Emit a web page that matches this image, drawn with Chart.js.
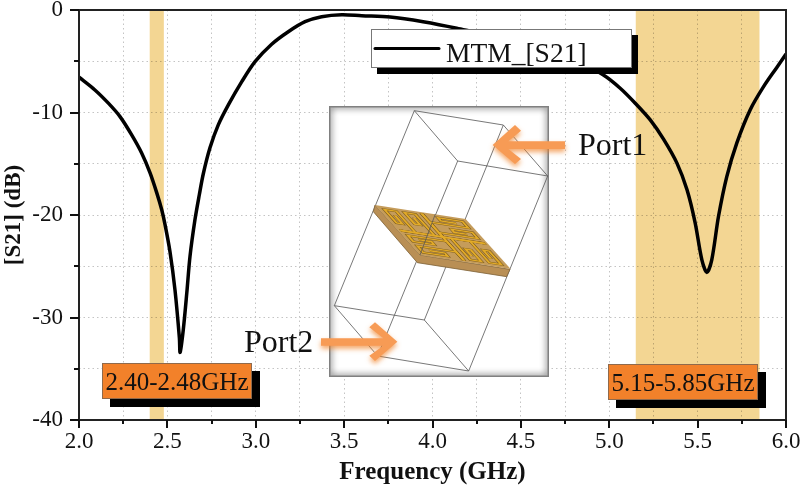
<!DOCTYPE html>
<html>
<head>
<meta charset="utf-8">
<title>MTM S21</title>
<script src="https://cdn.jsdelivr.net/npm/chart.js@4"></script>
<style>
  html, body { margin: 0; padding: 0; background: #fff; }
  canvas { display: block; }
</style>
</head>
<body>
<canvas id="myChart" width="800" height="488"></canvas>
<script>
// values
const freq = [2.00, 2.09, 2.166, 2.232, 2.298, 2.355, 2.402, 2.44, 2.468, 2.487, 2.515, 2.543, 2.568, 2.572,
    2.59, 2.61, 2.628, 2.656, 2.681, 2.703, 2.741, 2.788, 2.845, 2.921, 2.996, 3.09, 3.184, 3.279, 3.373, 3.487,
    3.60, 3.76, 3.947, 4.137, 4.5, 4.8, 4.967, 5.062, 5.147, 5.232, 5.307, 5.383, 5.44, 5.486, 5.524, 5.552,
    5.58, 5.618, 5.665, 5.722, 5.797, 5.873, 5.948, 6.00];
const s21 = [-6.56, -7.80, -9.09, -10.40, -12.18, -13.97, -15.89, -17.84, -19.49, -20.96, -23.6, -27.3, -32.0, -33.40,
    -31.19, -27.58, -24.04, -20.47, -18.0, -16.0, -13.45, -11.21, -9.26, -6.99, -5.04, -3.34, -2.12, -1.14, -0.65, -0.46,
    -0.56, -0.68, -1.14, -1.78, -3.2, -4.8, -6.34, -7.63, -9.09, -10.72, -12.6, -14.94, -17.54, -20.76, -24.37, -25.6,
    -24.37, -20.15, -16.25, -12.96, -9.75, -7.48, -5.6, -4.3];
const bandStart = [2.40, 5.15];
const bandEnd = [2.48, 5.85];
const bandLabels = ['2.40-2.48GHz', '5.15-5.85GHz'];
const seriesName = 'MTM_[S21]';

const SERIF = '"Liberation Serif", "Times New Roman", serif';
const DARK = '#222';

// shaded frequency bands, multiplied so the grid dots still show through
const bandsPlugin = {
    id: 'bands',
    beforeDatasetsDraw(chart) {
        const { ctx, chartArea, scales } = chart;
        ctx.save();
        ctx.globalCompositeOperation = 'multiply';
        ctx.fillStyle = '#f3d693';
        bandStart.forEach((s, i) => {
            const x0 = scales.x.getPixelForValue(s);
            const x1 = scales.x.getPixelForValue(bandEnd[i]);
            ctx.fillRect(x0, chartArea.top, x1 - x0, chartArea.bottom - chartArea.top);
        });
        ctx.restore();
    }
};

function shadowBox(ctx, x, y, w, h, off, fill, border) {
    ctx.fillStyle = '#000';
    ctx.fillRect(x + off, y + off, w, h);
    ctx.fillStyle = fill;
    ctx.fillRect(x, y, w, h);
    ctx.strokeStyle = border;
    ctx.lineWidth = 1;
    ctx.strokeRect(x + 0.5, y + 0.5, w - 1, h - 1);
}

function arrow(ctx, pts) {
    ctx.save();
    ctx.shadowColor = 'rgba(240,130,40,0.7)';
    ctx.shadowBlur = 5;
    ctx.shadowOffsetY = 3;
    ctx.fillStyle = '#f79b55';
    ctx.beginPath();
    pts.forEach((p, i) => i ? ctx.lineTo(p[0], p[1]) : ctx.moveTo(p[0], p[1]));
    ctx.closePath();
    ctx.fill();
    ctx.restore();
}

function polyLine(ctx, pts, close) {
    ctx.beginPath();
    pts.forEach((p, i) => i ? ctx.lineTo(p[0], p[1]) : ctx.moveTo(p[0], p[1]));
    if (close) ctx.closePath();
}

function drawInset(ctx) {
    // white panel with a soft grey inner edge
    const x = 329, y = 106, w = 220, h = 271;
    ctx.save();
    ctx.fillStyle = '#fff';
    ctx.fillRect(x, y, w, h);
    ctx.beginPath();
    ctx.rect(x, y, w, h);
    ctx.clip();
    ctx.shadowColor = 'rgba(0,0,0,0.75)';
    ctx.shadowBlur = 7;
    ctx.strokeStyle = '#808080';
    ctx.lineWidth = 3;
    ctx.strokeRect(x, y, w, h);
    ctx.restore();

    // the rest is measured on a 3x crop with its origin at (320,90)
    ctx.save();
    ctx.translate(320, 90);
    ctx.scale(1 / 3, 1 / 3);
    ctx.lineWidth = 2.4;
    ctx.strokeStyle = '#555';
    const top = [[283, 62], [550, 105], [683, 258], [413, 213]];
    const bottom = [[43, 647], [313, 690], [446, 843], [173, 798]];
    polyLine(ctx, top, true); ctx.stroke();
    polyLine(ctx, bottom, true); ctx.stroke();
    top.forEach((p, i) => { polyLine(ctx, [p, bottom[i]]); ctx.stroke(); });

    // substrate sides
    ctx.fillStyle = '#b98f55';
    ctx.strokeStyle = '#7d6238';
    polyLine(ctx, [[165, 345], [300, 495], [570, 538], [560, 560], [292, 518], [160, 365]], true);
    ctx.fill(); ctx.stroke();

    // top face, drawn in a 0..1 square mapped onto the parallelogram
    ctx.save();
    ctx.transform(272, 42, 135, 150, 165, 345);
    ctx.fillStyle = '#c59c5b';
    ctx.fillRect(0, 0, 1, 1);
    const arms = [
        [[0.47, 0], [-0.47, 0]],
        [[0.09, 0], [0.09, 0.43], [0.21, 0.43], [0.21, 0.2], [0.15, 0.2], [0.15, 0.34]],
        [[0.30, 0], [0.30, 0.43], [0.43, 0.43], [0.43, 0.16], [0.365, 0.16], [0.365, 0.33]]
    ];
    [[0.05, '#7c5c1c'], [0.032, '#e2aa28']].forEach(([lw, col]) => {
        ctx.lineWidth = lw;
        ctx.strokeStyle = col;
        for (let r = 0; r < 4; r++) {
            ctx.save();
            ctx.translate(0.5, 0.5);
            ctx.rotate(r * Math.PI / 2);
            arms.forEach(a => { polyLine(ctx, a); ctx.stroke(); });
            ctx.restore();
        }
    });
    ctx.restore();

    // front wires of the box cross over the plate
    ctx.lineWidth = 2.4;
    ctx.strokeStyle = '#555';
    polyLine(ctx, [[346, 372], [300, 495]]);
    ctx.stroke();
    ctx.restore();

    ctx.save();
    ctx.translate(320, 90);
    ctx.scale(1 / 3, 1 / 3);
    arrow(ctx, [[518, 165], [585, 105], [603, 122], [565, 154], [735, 154], [735, 177], [565, 177], [603, 207], [585, 222]]);
    arrow(ctx, [[232, 755], [165, 697], [148, 712], [190, 745], [3, 745], [3, 767], [190, 767], [148, 797], [165, 813]]);
    ctx.restore();
}

const notesPlugin = {
    id: 'notes',
    afterDraw(chart) {
        const { ctx, chartArea, scales } = chart;
        const { left, right, top, bottom } = chartArea;
        ctx.save();

        // frame
        ctx.strokeStyle = DARK;
        ctx.lineWidth = 2;
        ctx.beginPath();
        ctx.moveTo(left, top); ctx.lineTo(left, bottom);
        ctx.moveTo(right, top); ctx.lineTo(right, bottom);
        ctx.moveTo(left - 9, top); ctx.lineTo(right + 1, top);
        ctx.moveTo(left - 9, bottom); ctx.lineTo(right + 1, bottom);
        ctx.stroke();

        // long ticks on labelled values, short ones between
        ctx.strokeStyle = '#111';
        ctx.beginPath();
        scales.x.ticks.forEach(t => {
            const px = Math.round(scales.x.getPixelForValue(t.value));
            ctx.moveTo(px, bottom); ctx.lineTo(px, bottom + (t.label !== '' ? 8 : 4));
        });
        scales.y.ticks.forEach(t => {
            const py = Math.round(scales.y.getPixelForValue(t.value));
            ctx.moveTo(left, py); ctx.lineTo(left - (t.label !== '' ? 9 : 5), py);
        });
        ctx.stroke();

        drawInset(ctx);

        ctx.textBaseline = 'alphabetic';
        ctx.textAlign = 'left';
        ctx.fillStyle = '#111';
        ctx.font = '32px ' + SERIF;
        ctx.fillText('Port1', 578, 155);
        ctx.fillText('Port2', 244, 352);

        // legend
        shadowBox(ctx, 371, 29, 261, 39, 6, '#fff', '#777');
        ctx.strokeStyle = '#000';
        ctx.lineWidth = 3;
        ctx.lineCap = 'round';
        ctx.beginPath();
        ctx.moveTo(375, 48.5); ctx.lineTo(439, 48.5);
        ctx.stroke();
        ctx.fillStyle = '#111';
        ctx.font = '27.5px ' + SERIF;
        ctx.fillText(seriesName, 446, 62);

        // band labels
        [[102, 363], [608, 364]].forEach((pos, i) => {
            shadowBox(ctx, pos[0], pos[1], 150, 36, 8, '#f2812a', '#8f6a4c');
            ctx.fillStyle = '#111';
            ctx.font = '25px ' + SERIF;
            ctx.textAlign = 'center';
            ctx.fillText(bandLabels[i], pos[0] + 75, pos[1] + 27);
        });
        ctx.restore();
    }
};

const gridStyle = {
    color: '#c4c4c4',
    lineWidth: 1,
    drawTicks: false,
    tickLength: 0
};

new Chart(document.getElementById('myChart').getContext('2d'), {
    type: 'line',
    data: {
        labels: freq,
        datasets: [{
            label: seriesName,
            data: freq.map((f, i) => ({ x: f, y: s21[i] })),
            borderColor: '#000',
            borderWidth: 3.5,
            pointRadius: 0,
            tension: 0.3,
            fill: false
        }]
    },
    options: {
        responsive: false,
        animation: false,
        layout: { padding: { top: 10, right: 14, left: 0, bottom: 0 } },
        plugins: {
            legend: { display: false },
            tooltip: { enabled: false }
        },
        scales: {
            x: {
                type: 'linear',
                min: 2,
                max: 6,
                afterFit(scale) {
                    scale.height = 68;
                    scale.paddingLeft = 0;
                    scale.paddingRight = 0;
                },
                ticks: {
                    stepSize: 0.25,
                    autoSkip: false,
                    maxRotation: 0,
                    padding: 8,
                    color: '#111',
                    font: { family: SERIF, size: 23 },
                    callback: v => (Math.abs(v * 2 - Math.round(v * 2)) < 1e-6 ? v.toFixed(1) : '')
                },
                border: { display: false, dash: [1.5, 3] },
                grid: gridStyle,
                title: {
                    display: true,
                    text: 'Frequency (GHz)',
                    color: '#111',
                    padding: { top: 2, bottom: 0 },
                    font: { family: SERIF, size: 25, weight: 'bold' }
                }
            },
            y: {
                min: -40,
                max: 0,
                afterFit(scale) {
                    scale.width = 79;
                    scale.paddingTop = 0;
                    scale.paddingBottom = 0;
                },
                ticks: {
                    stepSize: 5,
                    autoSkip: false,
                    padding: 16,
                    color: '#111',
                    font: { family: SERIF, size: 23 },
                    callback: v => (v % 10 === 0 ? String(v) : '')
                },
                border: { display: false, dash: [1.5, 3] },
                grid: gridStyle,
                title: {
                    display: true,
                    text: '[S21] (dB)',
                    color: '#111',
                    padding: { top: 0, bottom: 0 },
                    font: { family: SERIF, size: 23, weight: 'bold' }
                }
            }
        }
    },
    plugins: [bandsPlugin, notesPlugin]
});
</script>
</body>
</html>
